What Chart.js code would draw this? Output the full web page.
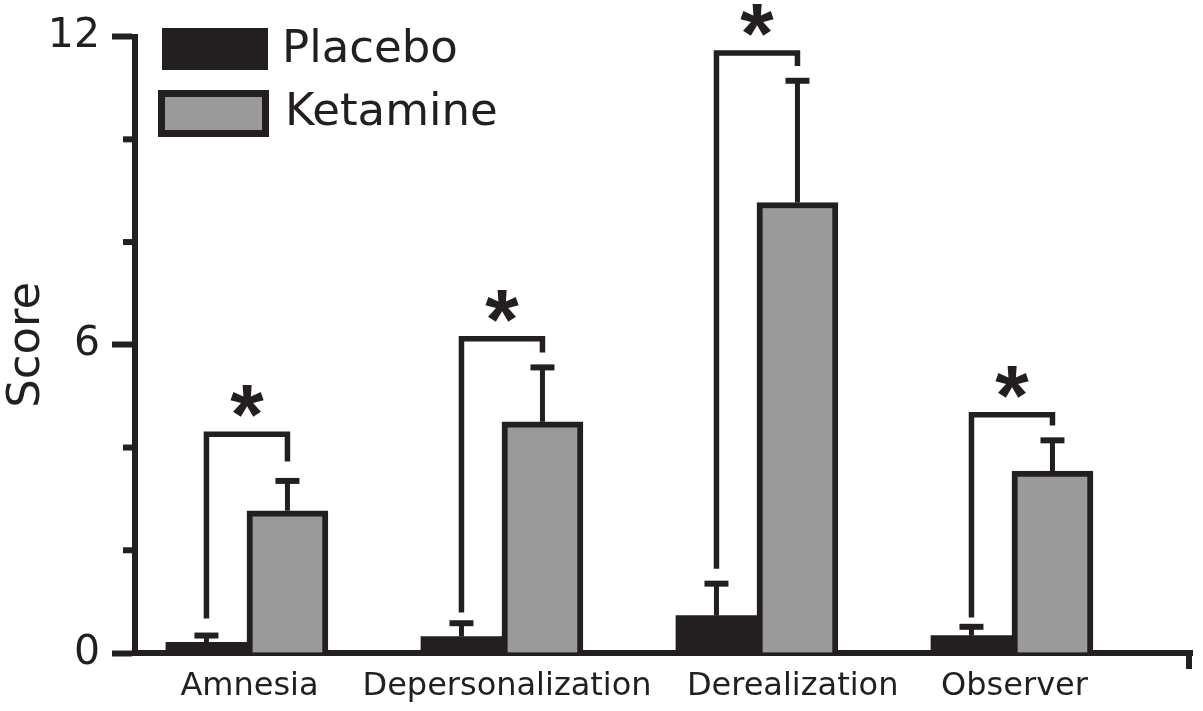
<!DOCTYPE html>
<html lang="en">
<head>
    <meta charset="UTF-8">
    <title>Placebo vs Ketamine scores</title>
    <style>
        body { margin: 0; background: #fff; }
        #wrap { width: 1203px; height: 711px; position: relative; }
    </style>
</head>
<body>
    <div id="wrap"><canvas id="scoreChart"></canvas></div>

    <script src="https://cdn.jsdelivr.net/npm/chart.js@4.4.1/dist/chart.umd.min.js"></script>

    <script>
        // data
        const categories = ['Amnesia', 'Depersonalization', 'Derealization', 'Observer'];
        const placebo = [0.21, 0.32, 0.73, 0.34];
        const placeboErr = [0.34, 0.58, 1.35, 0.51];      // top of error bar
        const ketamine = [2.77, 4.50, 8.77, 3.54];
        const ketamineErr = [3.35, 5.56, 11.14, 4.14];    // top of error bar
        // significance brackets (in score units)
        const bracketLeft = [0.67, 0.79, 1.64, 0.69];
        const bracketTop = [4.26, 6.12, 11.68, 4.64];
        const bracketRight = [3.73, 5.85, 11.43, 4.43];
        const yMajorTicks = [0, 6, 12];
        const yMinorTicks = [2, 4, 8, 10];
        // where the category names sit on the x axis (the original is not quite centred)
        const labelAt = [1.01, 2.02, 3.14, 4.01];

        const ink = '#231f20';
        const grey = '#9a9a9a';

        // error bars, brackets, stars, minor ticks and legend
        const annotations = {
            id: 'annotations',
            afterDatasetsDraw(chart) {
                const ctx = chart.ctx;
                const y = chart.scales.y;
                const x = chart.scales.x;
                const errs = [placeboErr, ketamineErr];
                const metaP = chart.getDatasetMeta(0);
                const metaK = chart.getDatasetMeta(1);

                ctx.save();
                ctx.strokeStyle = ink;
                ctx.fillStyle = ink;
                ctx.lineCap = 'butt';

                // error bars (upper only)
                [metaP, metaK].forEach(function (meta, d) {
                    meta.data.forEach(function (bar, i) {
                        const top = y.getPixelForValue(errs[d][i]);
                        ctx.lineWidth = 5;
                        ctx.beginPath();
                        ctx.moveTo(bar.x, bar.y);
                        ctx.lineTo(bar.x, top);
                        ctx.stroke();
                        ctx.lineWidth = 6;
                        ctx.beginPath();
                        ctx.moveTo(bar.x - 12, top);
                        ctx.lineTo(bar.x + 12, top);
                        ctx.stroke();
                    });
                });

                // brackets + stars
                ctx.lineWidth = 5.5;
                ctx.lineJoin = 'miter';
                ctx.font = 'bold 86px "Liberation Sans"';
                ctx.textAlign = 'center';
                ctx.textBaseline = 'alphabetic';
                const m = ctx.measureText('*');
                const starShift = (m.actualBoundingBoxDescent - m.actualBoundingBoxAscent) / 2;
                categories.forEach(function (c, i) {
                    const lx = metaP.data[i].x;
                    const rx = metaK.data[i].x;
                    const ty = y.getPixelForValue(bracketTop[i]);
                    ctx.beginPath();
                    ctx.moveTo(lx, y.getPixelForValue(bracketLeft[i]));
                    ctx.lineTo(lx, ty);
                    ctx.lineTo(rx, ty);
                    ctx.lineTo(rx, y.getPixelForValue(bracketRight[i]));
                    ctx.stroke();
                    ctx.fillText('*', (lx + rx) / 2, ty - 33 - starShift);
                });

                // minor y ticks
                ctx.lineWidth = 6;
                yMinorTicks.forEach(function (v) {
                    const py = y.getPixelForValue(v);
                    ctx.beginPath();
                    ctx.moveTo(x.left - 12, py);
                    ctx.lineTo(x.left, py);
                    ctx.stroke();
                });

                // end tick of the x axis
                ctx.beginPath();
                ctx.moveTo(x.right - 3, y.bottom);
                ctx.lineTo(x.right - 3, y.bottom + 16);
                ctx.stroke();

                // legend
                const ds = chart.data.datasets;
                ctx.fillStyle = ds[0].backgroundColor;
                ctx.fillRect(162, 28, 106, 42);
                ctx.fillStyle = ds[1].backgroundColor;
                ctx.fillRect(158, 90, 111, 47);
                ctx.strokeStyle = ds[1].borderColor;
                ctx.lineWidth = 7;
                ctx.strokeRect(161.5, 93.5, 104, 40);
                ctx.fillStyle = ink;
                ctx.font = '45px "DejaVu Sans"';
                ctx.textAlign = 'left';
                ctx.textBaseline = 'middle';
                ctx.fillText(ds[0].label, 282, 50);
                ctx.fillText(ds[1].label, 285, 113);

                ctx.restore();
            }
        };

        new Chart('scoreChart', {
            type: 'bar',
            data: {
                datasets: [{
                    label: 'Placebo',
                    data: placebo.map(function (v, i) { return { x: i + 1, y: v }; }),
                    backgroundColor: ink,
                    borderWidth: 0,
                    barThickness: 81
                }, {
                    label: 'Ketamine',
                    data: ketamine.map(function (v, i) { return { x: i + 1, y: v }; }),
                    backgroundColor: grey,
                    borderColor: ink,
                    borderWidth: 6,
                    barThickness: 81
                }]
            },
            options: {
                responsive: true,
                maintainAspectRatio: false,
                animation: false,
                layout: { padding: { top: 33, right: 11, bottom: 0, left: 0 } },
                plugins: {
                    legend: { display: false },
                    tooltip: { enabled: false }
                },
                scales: {
                    x: {
                        type: 'linear',
                        offset: false,
                        min: 0.561,
                        max: 4.706,
                        afterBuildTicks: function (scale) {
                            scale.ticks = labelAt.map(function (v) { return { value: v }; });
                        },
                        afterFit: function (scale) { scale.height = 58; },
                        grid: { display: false, drawTicks: false },
                        border: { display: true, color: ink, width: 6 },
                        ticks: {
                            padding: 14,
                            color: ink,
                            autoSkip: false,
                            maxRotation: 0,
                            font: { family: 'DejaVu Sans', size: 32 },
                            callback: function (v, i) { return categories[i]; }
                        }
                    },
                    y: {
                        min: 0,
                        max: 12,
                        afterBuildTicks: function (scale) {
                            scale.ticks = yMajorTicks.map(function (v) { return { value: v }; });
                        },
                        afterFit: function (scale) { scale.width = 135; },
                        grid: {
                            drawOnChartArea: false,
                            tickLength: 23,
                            tickWidth: 6,
                            tickColor: ink
                        },
                        border: { display: true, color: ink, width: 6 },
                        ticks: {
                            padding: 12,
                            color: ink,
                            font: { family: 'DejaVu Sans', size: 41 }
                        },
                        title: {
                            display: true,
                            text: 'Score',
                            color: ink,
                            padding: { top: 5, bottom: 0 },
                            font: { family: 'DejaVu Sans', size: 45, lineHeight: 1 }
                        }
                    }
                }
            },
            plugins: [annotations]
        });
    </script>
</body>
</html>
